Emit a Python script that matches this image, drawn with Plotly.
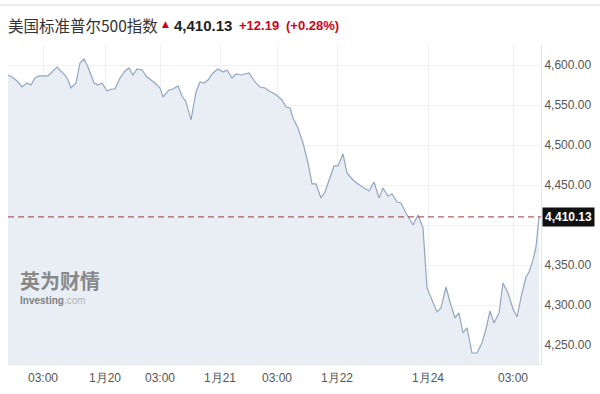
import plotly.graph_objects as go

# bar position (session time index) and index values
bar_pos = [0, 4, 9, 14, 19, 23, 27, 31, 40, 49, 57, 60, 63, 68, 72, 76, 80, 86, 90, 94,
           99, 104, 107, 112, 117, 121, 125, 129, 134, 139, 147, 152, 155, 161, 165, 170,
           174, 178, 183, 188, 192, 196, 200, 205, 210, 215, 219, 224, 228, 233, 241, 247,
           252, 257, 261, 267, 274, 278, 282, 285, 290, 295, 300, 304, 308, 313, 317, 322,
           326, 330, 335, 339, 345, 350, 355, 361, 366, 371, 375, 380, 384, 389, 393, 398,
           405, 410, 415, 419, 424, 429, 433, 438, 442, 447, 451, 455, 459, 464, 469, 474,
           478, 482, 486, 491, 495, 500, 505, 509, 514, 518, 521, 525, 528, 531]
values = [4587.5, 4585.0, 4580.0, 4572.5, 4577.5, 4575.0, 4583.8, 4586.3, 4586.3, 4597.5,
          4587.5, 4581.3, 4571.3, 4577.5, 4602.5, 4607.5, 4597.5, 4577.5, 4575.0, 4577.5,
          4567.5, 4570.0, 4570.0, 4583.8, 4592.5, 4596.3, 4587.5, 4595.0, 4593.8, 4585.0,
          4577.5, 4571.3, 4560.0, 4568.8, 4570.0, 4573.8, 4561.3, 4553.8, 4531.3, 4566.3,
          4578.8, 4577.5, 4581.3, 4590.0, 4595.0, 4591.3, 4593.8, 4583.8, 4588.8, 4587.5,
          4590.0, 4578.8, 4572.5, 4571.3, 4567.5, 4563.8, 4556.3, 4547.5, 4546.3, 4533.8,
          4521.3, 4502.5, 4477.5, 4451.3, 4451.3, 4433.8, 4441.3, 4460.0, 4473.8, 4473.8,
          4488.8, 4465.0, 4456.3, 4451.3, 4447.5, 4442.5, 4453.8, 4433.8, 4446.3, 4436.3,
          4438.8, 4428.8, 4427.5, 4415.0, 4400.0, 4412.5, 4396.3, 4321.3, 4306.3, 4291.3,
          4296.3, 4322.5, 4303.8, 4283.8, 4290.0, 4265.0, 4271.3, 4240.0, 4240.0, 4252.5,
          4270.0, 4292.5, 4277.5, 4290.0, 4327.5, 4315.0, 4295.0, 4285.0, 4315.0, 4335.0,
          4341.3, 4356.3, 4372.5, 4410.13]

last_price = 4410.13
change = "+12.19"
change_pct = "(+0.28%)"
title_text = "美国标准普尔500指数"

x_tick_pos = [35, 97, 152, 212, 269, 329, 420, 505]
x_tick_text = ["03:00", "1月20", "03:00", "1月21", "03:00", "1月22", "1月24", "03:00"]
y_tick_vals = [4250, 4300, 4350, 4400, 4450, 4500, 4550, 4600]
# the 4,400.00 label sits under the last-price marker, so it is left blank
y_tick_text = ["4,250.00", "4,300.00", "4,350.00", "", "4,450.00", "4,500.00",
               "4,550.00", "4,600.00"]

RED = "#d0021b"
FONT = "Liberation Sans, Arial, sans-serif"
CJK = "Noto Sans CJK SC, sans-serif"

fig = go.Figure()
fig.add_trace(go.Scatter(
    x=bar_pos, y=values, mode="lines",
    line=dict(color="#93a6c0", width=1.2),
    fill="tozeroy", fillcolor="#e9eef5",
    hoverinfo="skip", showlegend=False,
))

shapes = [
    dict(type="line", xref="paper", yref="paper", x0=-0.02, x1=1.2, y0=1.125, y1=1.125,
         line=dict(color="#dddddd", width=1)),
    dict(type="line", xref="paper", yref="y", x0=0, x1=1, y0=last_price, y1=last_price,
         line=dict(color="#9a3a3a", width=1, dash="6px,4px"), layer="above"),
]

annotations = [
    dict(xref="paper", yref="y", x=1, y=last_price, xanchor="left", yanchor="middle",
         text="<b>4,410.13</b>", showarrow=False, bgcolor="#111111",
         font=dict(color="white", size=12, family=FONT), borderpad=2, xshift=1),
    dict(xref="paper", yref="paper", x=0, y=1, xanchor="left", yanchor="middle",
         xshift=-2, yshift=20, showarrow=False, text=title_text,
         font=dict(color="#333333", size=15.5, family=CJK)),
    dict(xref="paper", yref="paper", x=0, y=1, xanchor="left", yanchor="middle",
         xshift=152, yshift=21, showarrow=False, text="▲",
         font=dict(color=RED, size=9, family="DejaVu Sans, sans-serif")),
    dict(xref="paper", yref="paper", x=0, y=1, xanchor="left", yanchor="middle",
         xshift=164, yshift=20, showarrow=False, text="<b>4,410.13</b>",
         font=dict(color="#222222", size=15, family=FONT)),
    dict(xref="paper", yref="paper", x=0, y=1, xanchor="left", yanchor="middle",
         xshift=229, yshift=20, showarrow=False, text="<b>" + change + "</b>",
         font=dict(color=RED, size=13, family=FONT)),
    dict(xref="paper", yref="paper", x=0, y=1, xanchor="left", yanchor="middle",
         xshift=276, yshift=20, showarrow=False, text="<b>" + change_pct + "</b>",
         font=dict(color=RED, size=13, family=FONT)),
    # watermark
    dict(xref="paper", yref="paper", x=0, y=0, xanchor="left", yanchor="middle",
         xshift=10, yshift=84, showarrow=False, text="<b>英为财情</b>",
         font=dict(color="#777777", size=20, family=CJK), opacity=0.85),
    dict(xref="paper", yref="paper", x=0, y=0, xanchor="left", yanchor="middle",
         xshift=10, yshift=64, showarrow=False,
         text="<b>Investing</b><span style='color:#aaaaaa'>.com</span>",
         font=dict(color="#6d6d6d", size=10, family=FONT), opacity=0.85),
]

fig.update_layout(
    width=600, height=394,
    margin=dict(l=8, r=59, t=45, b=30),
    paper_bgcolor="white", plot_bgcolor="white",
    annotations=annotations,
    shapes=shapes,
    xaxis=dict(
        range=[0, 533], tickvals=x_tick_pos, ticktext=x_tick_text,
        showgrid=True, gridcolor="#eef0f3", gridwidth=1, zeroline=False,
        showline=True, linecolor="#e4e6ea", ticks="", ticklabelstandoff=3,
        tickfont=dict(size=12, color="#555555", family=FONT),
    ),
    yaxis=dict(
        side="right", range=[4226.25, 4625], tickvals=y_tick_vals, ticktext=y_tick_text,
        showgrid=True, gridcolor="#eef0f3", zeroline=False,
        showline=True, linecolor="#e4e6ea", ticks="",
        tickfont=dict(size=12, color="#555555", family=FONT),
    ),
)

fig.write_html("out.html")
